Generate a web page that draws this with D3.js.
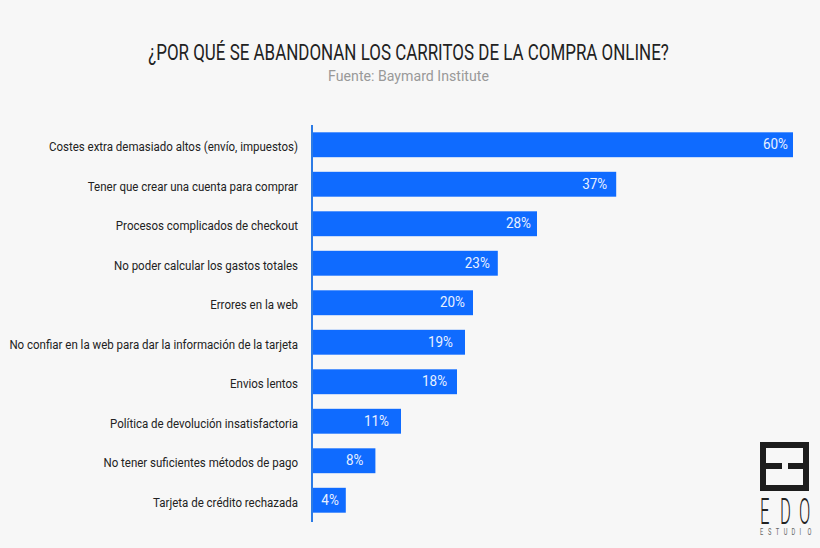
<!DOCTYPE html>
<html>
<head>
<meta charset="utf-8">
<script src="https://cdn.jsdelivr.net/npm/d3@7"></script>
<style>
  html, body { margin: 0; padding: 0; background: #f7f7f7; }
  svg { display: block; }
  text { font-family: Roboto, "Liberation Sans", sans-serif; }
</style>
</head>
<body>
<svg id="chart" width="820" height="548"></svg>
<script>
/* Data */
var categories = [
  "Costes extra demasiado altos (envío, impuestos)",
  "Tener que crear una cuenta para comprar",
  "Procesos complicados de checkout",
  "No poder calcular los gastos totales",
  "Errores en la web",
  "No confiar en la web para dar la información de la tarjeta",
  "Envios lentos",
  "Política de devolución insatisfactoria",
  "No tener suficientes métodos de pago",
  "Tarjeta de crédito rechazada"
];
/* bar lengths as drawn (the 37% bar is drawn longer than its label) */
var barValues = [60, 37.9, 28, 23.1, 20, 19, 18, 11, 7.8, 4.1];
var barLabels = ["60%", "37%", "28%", "23%", "20%", "19%", "18%", "11%", "8%", "4%"];

/* gap between label end and bar end in the picture */
var labelInset = [5, 9, 6, 8, 8, 12, 10, 12, 12, 7];

var svg = d3.select("#chart");
svg.append("rect").attr("width", 820).attr("height", 548).attr("fill", "#f7f7f7");

/* Scales */
var x = d3.scaleLinear().domain([0, 60]).range([313, 793]);
var y = d3.scaleBand().domain(categories).range([125, 520]).paddingInner(0.37).paddingOuter(0.185);

/* Narrow the glyphs around their anchor, the installed fonts are wider than the original one */
function squeeze(sel, f) {
  sel.attr("transform", function() {
    var ax = +this.getAttribute("x") || 0;
    return "translate(" + ax + ",0) scale(" + f + ",1) translate(" + (-ax) + ",0)";
  });
}

/* Title */
svg.append("text").attr("x", 408.5).attr("y", 60).attr("text-anchor", "middle")
  .attr("font-size", 22).attr("fill", "#222")
  .text("¿POR QUÉ SE ABANDONAN LOS CARRITOS DE LA COMPRA ONLINE?")
  .call(function(s) { squeeze(s, 521 / s.node().getComputedTextLength()); });
svg.append("text").attr("x", 408.5).attr("y", 81).attr("text-anchor", "middle")
  .attr("font-size", 15.5).attr("fill", "#999")
  .text("Fuente: Baymard Institute")
  .call(function(s) { squeeze(s, 161 / s.node().getComputedTextLength()); });

/* Bars */
svg.selectAll("rect.bar").data(categories).enter().append("rect")
  .attr("class", "bar")
  .attr("x", x(0))
  .attr("y", function(d){ return y(d); })
  .attr("width", function(d, i){ return x(barValues[i]) - x(0); })
  .attr("height", y.bandwidth())
  .attr("fill", "#0f6bff");

/* Bar labels */
svg.selectAll("text.val").data(categories).enter().append("text")
  .attr("class", "val")
  .attr("x", function(d, i){ return x(barValues[i]) - labelInset[i]; })
  .attr("y", function(d){ return y(d) + y.bandwidth() / 2 - 1; })
  .attr("dy", "0.35em")
  .attr("text-anchor", "end")
  .attr("font-size", 15.5)
  .attr("fill", "#e8f0ff")
  .text(function(d, i){ return barLabels[i]; })
  .call(squeeze, 0.87);

/* Category axis */
var axis = d3.axisLeft(y).tickSize(0).tickPadding(15);
var gAxis = svg.append("g").attr("transform", "translate(" + x(0) + ",0)").call(axis);
gAxis.select(".domain").remove();
gAxis.selectAll("text")
  .attr("font-size", 13)
  .attr("dy", "0.5em")
  .style("font-family", 'Roboto, "Liberation Sans", sans-serif')
  .attr("fill", "#222")
  .call(squeeze, 0.885);

svg.append("line").attr("x1", 312).attr("x2", 312).attr("y1", 125).attr("y2", 522)
  .attr("stroke", "#2c7be5").attr("stroke-width", 2);

/* Logo */
var logo = svg.append("g");
logo.append("rect").attr("x", 763).attr("y", 445).attr("width", 43).attr("height", 43)
  .attr("fill", "none").attr("stroke", "#1d1d1d").attr("stroke-width", 6);
logo.append("rect").attr("x", 766).attr("y", 463).attr("width", 16).attr("height", 6).attr("fill", "#1d1d1d");
logo.append("rect").attr("x", 788).attr("y", 463).attr("width", 16).attr("height", 6).attr("fill", "#1d1d1d");
["E", "D", "O"].forEach(function(c, i) {
  logo.append("text").attr("x", [760, 780, 799][i]).attr("y", 524)
    .attr("font-size", 37).attr("font-weight", 300).attr("fill", "#222")
    .text(c)
    .call(squeeze, 0.45);
});
"ESTUDIO".split("").forEach(function(c, i) {
  logo.append("text").attr("x", 760 + i * 7.9).attr("y", 535)
    .attr("font-size", 9.5).attr("fill", "#666")
    .text(c)
    .call(squeeze, 0.6);
});
</script>
</body>
</html>
